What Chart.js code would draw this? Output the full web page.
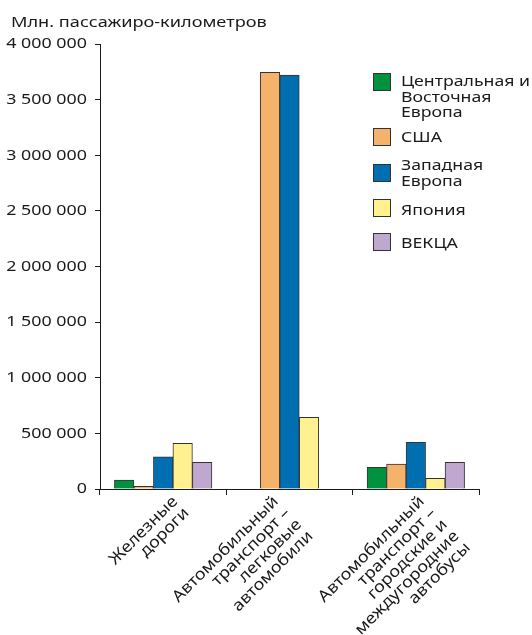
<!DOCTYPE html>
<html lang="ru">
<head>
<meta charset="utf-8">
<title>Пассажирооборот по видам транспорта</title>
<script src="https://cdn.jsdelivr.net/npm/chart.js"></script>
<style>
    html, body { margin: 0; padding: 0; background: #ffffff; }
    #wrap {
        position: relative;
        width: 532px;
        height: 635px;
        overflow: hidden;
        font-family: 'Noto Sans', sans-serif;
        color: #1a1a1a;
    }
    #chart { position: absolute; left: 0; top: 0; }
    /* the original type is a bit stretched sideways */
    .title {
        position: absolute;
        left: 11px;
        top: 11px;
        font-size: 15px;
        line-height: 20px;
        white-space: nowrap;
        transform: scaleX(1.21);
        transform-origin: 0 0;
    }
    .legend-box {
        position: absolute;
        left: 373px;
        width: 16px;
        height: 16px;
        border: 1px solid #333333;
    }
    .legend-text {
        position: absolute;
        left: 401px;
        font-size: 15px;
        line-height: 15.5px;
        white-space: nowrap;
        transform: scaleX(1.18);
        transform-origin: 0 0;
    }
</style>
</head>
<body>
<div id="wrap">
    <canvas id="chart" width="532" height="635"></canvas>
    <div class="title">Млн. пассажиро-километров</div>
    <div id="legend"></div>
</div>
<script>
// Categories on the x axis, split into lines like in the original
const categories = [
    ['Железные', 'дороги'],
    ['Автомобильный', 'транспорт –', 'легковые', 'автомобили'],
    ['Автомобильный', 'транспорт –', 'городские и', 'междугородние', 'автобусы']
];

// Values, млн пассажиро-километров (null = no bar)
const centralEastEurope = [80000, null, 195000];
const usa = [25000, 3745000, 225000];
const westernEurope = [290000, 3720000, 420000];
const japan = [410000, 645000, 95000];
const eecca = [240000, null, 240000];

// Legend names and colours, same order as the series
const seriesNames = [
    ['Центральная и', 'Восточная', 'Европа'],
    ['США'],
    ['Западная', 'Европа'],
    ['Япония'],
    ['ВЕКЦА']
];
const seriesColors = ['#00923f', '#f5b26b', '#006fb2', '#fff18f', '#c0a7cf'];

// Y axis range
const yMax = 4000000;
const yStep = 500000;

// Layout bits (not data)
const legendBoxTops = [73, 128, 164, 199, 233];
const legendTextTops = [73, 129, 157, 202, 235];
const xLabelShift = [12, -13.5, 6];
const xLabelTop = 499;
const xLabelLineHeight = 16.3;
const yLabelRight = 87;

// "4 000 000" style numbers
function formatNumber(v) {
    return String(v).replace(/\B(?=(\d{3})+(?!\d))/g, ' ');
}

// Build the legend as plain html
const legendDiv = document.getElementById('legend');
seriesNames.forEach((lines, i) => {
    const box = document.createElement('div');
    box.className = 'legend-box';
    box.style.top = legendBoxTops[i] + 'px';
    box.style.background = seriesColors[i];
    legendDiv.appendChild(box);

    const text = document.createElement('div');
    text.className = 'legend-text';
    text.style.top = legendTextTops[i] + 'px';
    text.innerHTML = lines.join('<br>');
    legendDiv.appendChild(text);
});

// Tick labels drawn by hand so they can be stretched like the original type
const axisLabelsPlugin = {
    id: 'axisLabels',
    afterDraw(chart) {
        const ctx = chart.ctx;
        const xScale = chart.scales.x;
        const yScale = chart.scales.y;
        ctx.save();
        ctx.fillStyle = '#1a1a1a';
        ctx.textAlign = 'right';
        ctx.textBaseline = 'middle';

        // y axis: right aligned numbers
        ctx.font = '15px "Noto Sans"';
        yScale.ticks.forEach(t => {
            ctx.save();
            ctx.translate(yLabelRight, yScale.getPixelForValue(t.value));
            ctx.scale(1.19, 1);
            ctx.fillText(formatNumber(t.value), 0, 0);
            ctx.restore();
        });

        // x axis: slanted multi-line labels, right aligned
        ctx.font = '16px "Noto Sans"';
        categories.forEach((lines, i) => {
            const x = xScale.getPixelForValue(i) + xLabelShift[i];
            ctx.save();
            ctx.translate(x, xLabelTop);
            ctx.rotate(-Math.PI / 4);
            ctx.scale(1.12, 1);
            lines.forEach((line, j) => ctx.fillText(line, 0, j * xLabelLineHeight));
            ctx.restore();
        });
        ctx.restore();
    }
};

const seriesData = [centralEastEurope, usa, westernEurope, japan, eecca];

new Chart(document.getElementById('chart'), {
    type: 'bar',
    data: {
        labels: categories.map(l => l.join(' ')),
        datasets: seriesData.map((values, i) => ({
            label: seriesNames[i].join(' '),
            data: values,
            backgroundColor: seriesColors[i],
            borderColor: '#333333',
            borderWidth: 1,
            barThickness: 19.5,
            skipNull: true
        }))
    },
    options: {
        responsive: false,
        devicePixelRatio: 1,
        animation: false,
        layout: {
            padding: { top: 44, right: 53, left: 0, bottom: 0 }
        },
        plugins: {
            legend: { display: false },
            tooltip: { enabled: false },
            title: { display: false }
        },
        scales: {
            x: {
                offset: true,
                grid: {
                    offset: true,
                    drawOnChartArea: false,
                    tickLength: 6,
                    color: '#1a1a1a'
                },
                border: { color: '#1a1a1a', width: 1 },
                ticks: { display: false },
                afterFit: (scale) => { scale.height = 146; }
            },
            y: {
                min: 0,
                max: yMax,
                grid: {
                    drawOnChartArea: false,
                    tickLength: 5,
                    color: '#1a1a1a'
                },
                border: { color: '#1a1a1a', width: 1 },
                ticks: {
                    display: false,
                    stepSize: yStep
                },
                afterFit: (scale) => { scale.width = 100; }
            }
        }
    },
    plugins: [axisLabelsPlugin]
});
</script>
</body>
</html>
